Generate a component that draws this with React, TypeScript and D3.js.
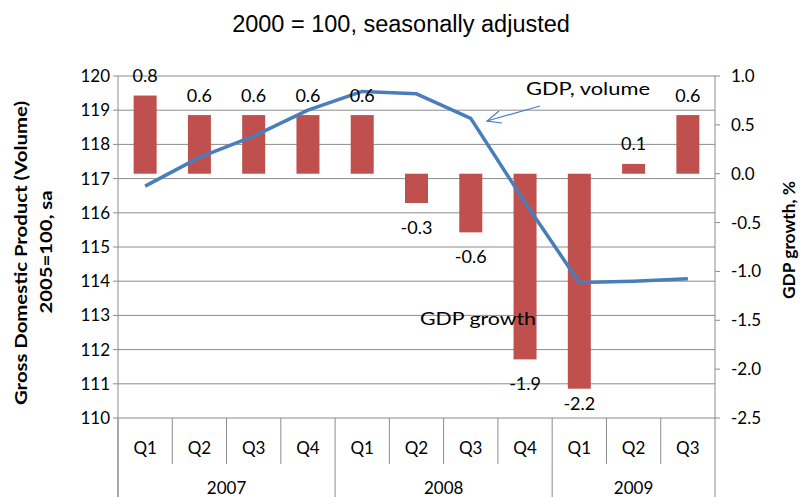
import React from "react";
import * as d3 from "d3";

const quarters = ["Q1", "Q2", "Q3", "Q4", "Q1", "Q2", "Q3", "Q4", "Q1", "Q2", "Q3"];
const years = ["2007", "2008", "2009"];
const yearSpans = [4, 4, 3];
const growth = [0.8, 0.6, 0.6, 0.6, 0.6, -0.3, -0.6, -1.9, -2.2, 0.1, 0.6];
const volume = [116.78, 117.62, 118.24, 119.0, 119.55, 119.48, 118.76, 116.3, 113.96, 114.0, 114.07];
const leftTicks = [110, 111, 112, 113, 114, 115, 116, 117, 118, 119, 120];
const rightTicks = [-2.5, -2.0, -1.5, -1.0, -0.5, 0.0, 0.5, 1.0];

const W = 800, H = 497;
const L = 118, R = 715, T = 76, B = 418;
const FONT = "Lato, 'Open Sans', sans-serif";
const BAR = "#C0504D";
const LINE = "#4A7EBB";
const GRID = "#8c8c8c";

export default function App() {
  const idx = d3.range(quarters.length);
  const x = d3.scaleBand<number>().domain(idx).range([L, R]).paddingInner(0).paddingOuter(0);
  const bw = 23;
  const yL = d3.scaleLinear().domain([110, 120]).range([B, T]);
  const yR = d3.scaleLinear().domain([-2.5, 1.0]).range([B, T]);
  const cx = (i: number) => (x(i) as number) + x.bandwidth() / 2;
  const line = d3.line<number>().x((_, i) => cx(i)).y((d) => yL(d));

  const yearBounds: number[] = [0];
  yearSpans.forEach((s, i) => yearBounds.push(yearBounds[i] + s));

  return (
    <svg width={W} height={H} style={{ position: "absolute", left: 0, top: 0, background: "#fff" }}>
      <text x={401} y={32} textAnchor="middle" fontFamily="'Liberation Sans', Arial, sans-serif" fontSize={23.5} fill="#000">
        2000 = 100, seasonally adjusted
      </text>

      {/* gridlines */}
      {leftTicks.map((t) => (
        <line key={"g" + t} x1={L} x2={R} y1={yL(t)} y2={yL(t)} stroke={GRID} strokeWidth={1} />
      ))}

      {/* bars */}
      {growth.map((v, i) => {
        const y0 = yR(0), y1 = yR(v);
        return (
          <rect key={"b" + i} x={cx(i) - bw / 2} y={Math.min(y0, y1)} width={bw} height={Math.abs(y1 - y0)} fill={BAR} />
        );
      })}

      {/* line */}
      <path d={line(volume) || ""} fill="none" stroke={LINE} strokeWidth={3.5} strokeLinejoin="round" />

      {/* bar labels */}
      {growth.map((v, i) => (
        <text key={"l" + i} x={cx(i)} y={v >= 0 ? yR(v) - 13.5 : Math.min(yR(v) + 31, 410)} textAnchor="middle" fontFamily={FONT} fontSize={18} fill="#000">
          {v.toFixed(1)}
        </text>
      ))}

      {/* axes */}
      <line x1={L} x2={L} y1={T} y2={H} stroke={GRID} />
      <line x1={R} x2={R} y1={T} y2={H} stroke={GRID} />
      {leftTicks.map((t) => (
        <g key={"lt" + t}>
          <line x1={L - 5} x2={L} y1={yL(t)} y2={yL(t)} stroke={GRID} />
          <text x={110} y={yL(t) + 6} textAnchor="end" fontFamily={FONT} fontSize={17} fill="#000">{t}</text>
        </g>
      ))}
      {rightTicks.map((t) => (
        <g key={"rt" + t}>
          <line x1={R} x2={R + 5} y1={yR(t)} y2={yR(t)} stroke={GRID} />
          <text x={731} y={yR(t) + 6} textAnchor="start" fontFamily={FONT} fontSize={17} fill="#000">{t.toFixed(1)}</text>
        </g>
      ))}

      {/* category axis */}
      {idx.map((i) => (
        <g key={"q" + i}>
          <line x1={x(i) as number} x2={x(i) as number} y1={B} y2={yearBounds.includes(i) ? H : 464} stroke={GRID} />
          <text x={cx(i)} y={454} textAnchor="middle" fontFamily={FONT} fontSize={17} fill="#000">{quarters[i]}</text>
        </g>
      ))}
      {years.map((yv, k) => {
        const a = x(yearBounds[k]) as number;
        const b = yearBounds[k + 1] < quarters.length ? (x(yearBounds[k + 1]) as number) : R;
        return (
          <text key={"y" + yv} x={(a + b) / 2} y={494} textAnchor="middle" fontFamily={FONT} fontSize={17} fill="#000">{yv}</text>
        );
      })}

      {/* axis titles */}
      <text transform="translate(27,253) rotate(-90)" textAnchor="middle" fontFamily={FONT} fontSize={17} fontWeight="bold" fill="#000" textLength={304} lengthAdjust="spacingAndGlyphs">
        Gross Domestic Product  (Volume)
      </text>
      <text transform="translate(52,252) rotate(-90)" textAnchor="middle" fontFamily={FONT} fontSize={17} fontWeight="bold" fill="#000" textLength={123} lengthAdjust="spacingAndGlyphs">
        2005=100, sa
      </text>
      <text transform="translate(795,240) rotate(-90)" textAnchor="middle" fontFamily={FONT} fontSize={17} fontWeight="bold" fill="#000" textLength={118} lengthAdjust="spacingAndGlyphs">
        GDP growth, %
      </text>

      {/* annotations */}
      <text x={526} y={95} fontFamily={FONT} fontSize={18} fill="#000" textLength={124} lengthAdjust="spacingAndGlyphs">GDP, volume</text>
      <line x1={540} y1={106} x2={487} y2={121} stroke={LINE} strokeWidth={1.2} />
      <path d="M 499 111 L 487 121 L 502 123" fill="none" stroke={LINE} strokeWidth={1.2} />
      <text x={420} y={325} fontFamily={FONT} fontSize={18} fill="#000" textLength={116} lengthAdjust="spacingAndGlyphs">GDP growth</text>
    </svg>
  );
}
